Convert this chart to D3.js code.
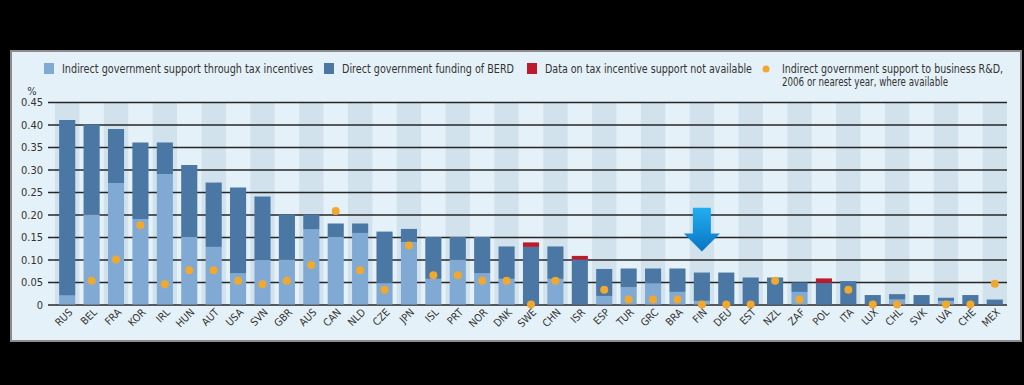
<!DOCTYPE html>
<html>
<head>
<meta charset="utf-8">
<script src="https://cdn.jsdelivr.net/npm/d3@7"></script>
<style>
  body { margin: 0; background: #000; }
  svg { display: block; }
  text { font-family: "Liberation Sans Narrow", "DejaVu Sans Condensed", "Liberation Sans", sans-serif; fill: #333; }
</style>
</head>
<body>
<div id="chart-area"></div>
<script>
// categories
var countries = ["RUS","BEL","FRA","KOR","IRL","HUN","AUT","USA","SVN","GBR","AUS","CAN","NLD","CZE","JPN","ISL","PRT","NOR","DNK","SWE","CHN","ISR","ESP","TUR","GRC","BRA","FIN","DEU","EST","NZL","ZAF","POL","ITA","LUX","CHL","SVK","LVA","CHE","MEX"];
// indirect support through tax incentives (% of GDP)
var indirect = [0.020,0.200,0.270,0.190,0.290,0.150,0.128,0.069,0.099,0.100,0.167,0.150,0.159,0.047,0.139,0.057,0.100,0.069,0.057,0,0.057,0,0.019,0.038,0.047,0.028,0.008,0,0,0,0.028,0,0,0,0.011,0,0.008,0,0];
// direct government funding of BERD
var direct = [0.390,0.200,0.120,0.170,0.070,0.160,0.143,0.191,0.141,0.100,0.033,0.030,0.021,0.115,0.029,0.093,0.050,0.081,0.072,0.128,0.072,0.100,0.060,0.042,0.033,0.052,0.063,0.071,0.060,0.060,0.021,0.048,0.052,0.021,0.012,0.021,0.007,0.021,0.011];
// data on tax incentive support not available
var notAvail = [0,0,0,0,0,0,0,0,0,0,0,0,0,0,0,0,0,0,0,0.010,0,0.008,0,0,0,0,0,0,0,0,0,0.010,0,0,0,0,0,0,0];
// indirect support, 2006 or nearest year
var indirect2006 = [null,0.053,0.100,0.176,0.045,0.076,0.076,0.053,0.045,0.053,0.088,0.208,0.076,0.033,0.131,0.065,0.065,0.053,0.053,0,0.053,null,0.033,0.011,0.011,0.011,0,0,0,0.053,0.011,null,0.033,0,0,null,0,0,0.046];
var yTicks = [0,0.05,0.10,0.15,0.20,0.25,0.30,0.35,0.40,0.45];

var colLight = "#80aad3", colDark = "#4a77a3", colRed = "#bd1a2b", colDot = "#f0a92e";

var svg = d3.select("#chart-area").append("svg")
    .attr("width", 1024)
    .attr("height", 385);

// panel
svg.append("rect")
    .attr("x", 11).attr("y", 51)
    .attr("width", 1010).attr("height", 290)
    .attr("fill", "#e5f1f8")
    .attr("stroke", "#8c8c8c")
    .attr("stroke-width", 2);

var x = d3.scaleBand()
    .domain(countries)
    .range([55, 1007])
    .padding(0);

var y = d3.scaleLinear()
    .domain([0, 0.45])
    .range([304.5, 102]);

var bw = x.bandwidth() * 0.66;

// alternate shaded columns
svg.selectAll("rect.band")
    .data(countries.filter((d, i) => i % 2 == 0))
    .enter().append("rect")
    .attr("class", "band")
    .attr("x", d => x(d))
    .attr("y", y(0.45))
    .attr("width", x.bandwidth())
    .attr("height", y(0) - y(0.45))
    .attr("fill", "#d2e2ec");

// grid + y axis
var yAxis = d3.axisLeft(y)
    .tickValues(yTicks)
    .tickSize(-(1007 - 48))
    .tickPadding(5)
    .tickFormat(d => d == 0 ? "0" : d3.format(".2f")(d));

var gy = svg.append("g")
    .attr("transform", "translate(48,0)")
    .call(yAxis);
gy.select(".domain").remove();
gy.selectAll(".tick line").attr("stroke", "#262626").attr("stroke-width", 1.6);
gy.selectAll(".tick text").attr("font-size", 11).attr("fill", "#333")
    .attr("font-family", "Liberation Sans Narrow, DejaVu Sans Condensed, sans-serif");

svg.append("text")
    .attr("x", 32).attr("y", 95)
    .attr("text-anchor", "middle")
    .attr("font-size", 11)
    .text("%");

// stacked bars
var rows = countries.map((c, i) => ({c: c, ind: indirect[i], dir: direct[i], na: notAvail[i], d06: indirect2006[i]}));

svg.selectAll("rect.ind")
    .data(rows.filter(d => d.ind > 0))
    .enter().append("rect")
    .attr("x", d => x(d.c) + (x.bandwidth() - bw) / 2)
    .attr("y", d => y(d.ind))
    .attr("width", bw)
    .attr("height", d => y(0) - y(d.ind))
    .attr("fill", colLight);

svg.selectAll("rect.dir")
    .data(rows.filter(d => d.dir > 0))
    .enter().append("rect")
    .attr("x", d => x(d.c) + (x.bandwidth() - bw) / 2)
    .attr("y", d => y(d.ind + d.dir))
    .attr("width", bw)
    .attr("height", d => y(d.ind) - y(d.ind + d.dir))
    .attr("fill", colDark);

svg.selectAll("rect.na")
    .data(rows.filter(d => d.na > 0))
    .enter().append("rect")
    .attr("x", d => x(d.c) + (x.bandwidth() - bw) / 2)
    .attr("y", d => y(d.ind + d.dir + d.na))
    .attr("width", bw)
    .attr("height", d => y(d.ind + d.dir) - y(d.ind + d.dir + d.na))
    .attr("fill", colRed);

// 2006 dots
svg.selectAll("circle.d06")
    .data(rows.filter(d => d.d06 !== null))
    .enter().append("circle")
    .attr("cx", d => x(d.c) + x.bandwidth() / 2)
    .attr("cy", d => y(d.d06))
    .attr("r", 4)
    .attr("fill", colDot);

// x labels
svg.selectAll("text.xl")
    .data(countries)
    .enter().append("text")
    .attr("transform", d => "translate(" + (x(d) + x.bandwidth() / 2 + 6) + ",313) rotate(-45)")
    .attr("text-anchor", "end")
    .attr("font-size", 10.5)
    .text(d => d);

// arrow on FIN
var defs = svg.append("defs");
var grad = defs.append("linearGradient").attr("id", "arr")
    .attr("x1", 0).attr("y1", 0).attr("x2", 0).attr("y2", 1);
grad.append("stop").attr("offset", "0%").attr("stop-color", "#21aef0");
grad.append("stop").attr("offset", "100%").attr("stop-color", "#0a74c4");

var ax = x("FIN") + x.bandwidth() / 2;
var aTop = y(0.215), aNeck = y(0.158), aTip = y(0.118);
svg.append("path")
    .attr("d", "M" + (ax - 9) + "," + aTop + "H" + (ax + 9) + "V" + aNeck + "H" + (ax + 18) +
        "L" + ax + "," + aTip + "L" + (ax - 18) + "," + aNeck + "H" + (ax - 9) + "Z")
    .attr("fill", "url(#arr)");

// legend
var legend = [
    {label: "Indirect government support through tax incentives", x: 44, w: 251, color: colLight, type: "rect"},
    {label: "Direct government funding of BERD", x: 324, w: 172, color: colDark, type: "rect"},
    {label: "Data on tax incentive support not available", x: 527, w: 207, color: colRed, type: "rect"},
    {label: "Indirect government support to business R&D,", x: 762, w: 221, color: colDot, type: "dot"}
];
var lg = svg.selectAll("g.lg").data(legend).enter().append("g");
lg.filter(d => d.type == "rect").append("rect")
    .attr("x", d => d.x).attr("y", 63)
    .attr("width", 10).attr("height", 11)
    .attr("fill", d => d.color);
lg.filter(d => d.type == "dot").append("circle")
    .attr("cx", d => d.x + 4).attr("cy", 69).attr("r", 3.5)
    .attr("fill", d => d.color);
lg.append("text")
    .attr("x", d => d.x + (d.type == "dot" ? 20 : 18))
    .attr("y", 73)
    .attr("font-size", 11.5)
    .attr("textLength", d => d.w)
    .attr("lengthAdjust", "spacingAndGlyphs")
    .text(d => d.label);
svg.append("text")
    .attr("x", 782).attr("y", 86)
    .attr("font-size", 11.5)
    .attr("textLength", 166)
    .attr("lengthAdjust", "spacingAndGlyphs")
    .text("2006 or nearest year, where available");
</script>
</body>
</html>
